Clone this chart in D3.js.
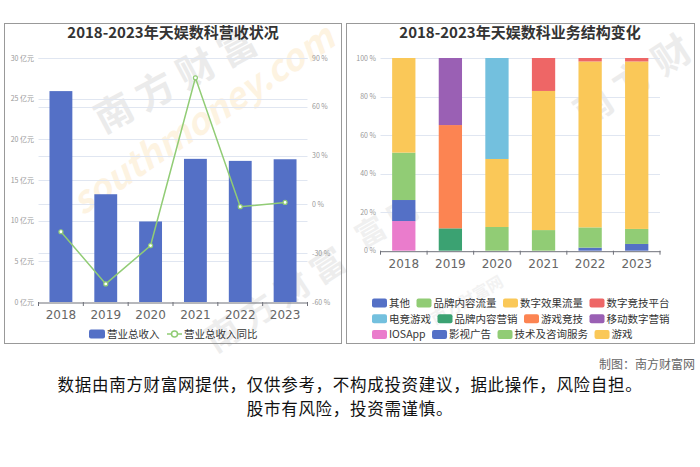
<!DOCTYPE html>
<html lang="zh">
<head>
<meta charset="utf-8">
<title>天娱数科</title>
<script src="https://cdnjs.cloudflare.com/ajax/libs/d3/7.8.5/d3.min.js"></script>
<style>
  body { margin: 0; background: #fff; }
  svg { display: block; font-family: "Noto Sans CJK SC", "Noto Sans", sans-serif; }
</style>
</head>
<body>
<script>
// ---- data ----
var years = ["2018", "2019", "2020", "2021", "2022", "2023"];
var revenue = [25.93, 13.25, 9.9, 17.6, 17.35, 17.55];      // 亿元
var growth = [-16.8, -48.9, -25.3, 77.8, -1.4, 1.2];       // %
var revTicks = [0, 5, 10, 15, 20, 25, 30];
var pctTicks = [-60, -30, 0, 30, 60, 90];

var segNames = ["其他", "品牌内容流量", "数字效果流量", "数字竞技平台", "电竞游戏", "品牌内容营销",
                "游戏竞技", "移动数字营销", "IOSApp", "影视广告", "技术及咨询服务", "游戏"];
var segColors = ["#5470c6", "#91cc75", "#fac858", "#ee6666", "#73c0de", "#3ba272",
                 "#fc8452", "#9a60b4", "#ea7ccc", "#5470c6", "#91cc75", "#fac858"];
// share per year (%), one row per segment, same order as segNames
var segValues = [
  [0, 0, 0, 0, 1.6, 3.5],
  [0, 0, 12.3, 10.7, 10.5, 7.8],
  [0, 0, 35.3, 72.2, 86.1, 86.9],
  [0, 0, 0, 17.1, 1.8, 1.8],
  [0, 0, 52.4, 0, 0, 0],
  [0, 11.6, 0, 0, 0, 0],
  [0, 53.6, 0, 0, 0, 0],
  [0, 34.8, 0, 0, 0, 0],
  [15.4, 0, 0, 0, 0, 0],
  [10.9, 0, 0, 0, 0, 0],
  [24.6, 0, 0, 0, 0, 0],
  [49.1, 0, 0, 0, 0, 0]
];
var shareTicks = [0, 20, 40, 60, 80, 100];

var w = 700, h = 467;
var svg = d3.select("body").append("svg").attr("width", w).attr("height", h);

// panel frames
svg.append("rect").attr("x", 4.5).attr("y", 23.5).attr("width", 337).attr("height", 320)
   .attr("fill", "#fff").attr("stroke", "#999");
svg.append("rect").attr("x", 346.5).attr("y", 23.5).attr("width", 348).attr("height", 320)
   .attr("fill", "#fff").attr("stroke", "#999");

// watermarks (faint)
function mark(x, y, rot, txt, size, color, op, italic) {
  svg.append("text").attr("transform", "translate(" + x + "," + y + ") rotate(" + rot + ")")
     .attr("text-anchor", "middle").attr("font-size", size).attr("font-weight", "bold")
     .attr("font-style", italic ? "italic" : "normal")
     .attr("fill", color).attr("opacity", op).text(txt);
}
mark(182, 92, -28, "南 方 财 富", 38, "#888", 0.16);
mark(210, 130, -34, "southmoney.com", 36, "#f5a623", 0.13, true);
mark(282, 310, -33, "南 方 财 富", 34, "#888", 0.14);
mark(640, 92, -33, "南 方 财", 38, "#888", 0.15);
mark(392, 232, -30, "富 网", 30, "#888", 0.12);
mark(470, 305, -30, "南方财富网", 16, "#888", 0.10);

// ---------- left chart ----------
var L = { left: 38.5, right: 307.5, top: 58, bottom: 302 };
var xL = d3.scaleBand().domain(years).range([L.left, L.right]);
var yRev = d3.scaleLinear().domain([0, 30]).range([L.bottom, L.top]);
var yPct = d3.scaleLinear().domain([-60, 90]).range([L.bottom, L.top]);

var gL = svg.append("g");
gL.append("text").attr("x", 173).attr("y", 38).attr("text-anchor", "middle")
  .attr("font-size", 15).attr("font-weight", "bold").attr("fill", "#333")
  .text("2018-2023年天娱数科营收状况");

gL.selectAll(".gr").data(revTicks.slice(1)).enter().append("line")
  .attr("x1", L.left).attr("x2", L.right)
  .attr("y1", function(d) { return Math.round(yRev(d)) + 0.5; })
  .attr("y2", function(d) { return Math.round(yRev(d)) + 0.5; })
  .attr("stroke", "#e0e6f1");
gL.selectAll(".gp").data(pctTicks.slice(1)).enter().append("line")
  .attr("x1", L.left).attr("x2", L.right)
  .attr("y1", function(d) { return Math.round(yPct(d)) + 0.5; })
  .attr("y2", function(d) { return Math.round(yPct(d)) + 0.5; })
  .attr("stroke", "#e0e6f1");

gL.selectAll(".ylab").data(revTicks).enter().append("text")
  .attr("x", 34).attr("y", function(d) { return yRev(d) + 2.5; })
  .attr("text-anchor", "end").attr("font-size", 7).attr("fill", "#999")
  .text(function(d) { return d + " 亿元"; });
gL.selectAll(".plab").data(pctTicks).enter().append("text")
  .attr("x", 312).attr("y", function(d) { return yPct(d) + 2.5; })
  .attr("font-size", 7).attr("fill", "#999")
  .text(function(d) { return d + " %"; });

var bwL = xL.bandwidth() * 0.51;
gL.selectAll(".bar").data(revenue).enter().append("rect")
  .attr("x", function(d, i) { return xL(years[i]) + (xL.bandwidth() - bwL) / 2; })
  .attr("y", function(d) { return yRev(d); })
  .attr("width", bwL)
  .attr("height", function(d) { return yRev(0) - yRev(d); })
  .attr("fill", "#5470c6");

var axL = gL.append("g").attr("transform", "translate(0," + (L.bottom + 0.5) + ")")
  .call(d3.axisBottom(xL).tickSize(0).tickPadding(8));
axL.select(".domain").attr("stroke", "#6e7079");
axL.selectAll("text").attr("font-size", 12).attr("fill", "#666")
   .attr("font-family", "DejaVu Sans, sans-serif");
gL.selectAll(".tk").data(d3.range(years.length + 1)).enter().append("line")
  .attr("x1", function(i) { return L.left + i * xL.step(); })
  .attr("x2", function(i) { return L.left + i * xL.step(); })
  .attr("y1", L.bottom).attr("y2", L.bottom + 4).attr("stroke", "#6e7079");

var line = d3.line()
  .x(function(d, i) { return xL(years[i]) + xL.bandwidth() / 2; })
  .y(function(d) { return yPct(d); });
gL.append("path").datum(growth).attr("d", line)
  .attr("fill", "none").attr("stroke", "#91cc75").attr("stroke-width", 1.5);
gL.selectAll(".pt").data(growth).enter().append("circle")
  .attr("cx", function(d, i) { return xL(years[i]) + xL.bandwidth() / 2; })
  .attr("cy", function(d) { return yPct(d); })
  .attr("r", 2).attr("fill", "#fff").attr("stroke", "#91cc75").attr("stroke-width", 1.2);

// left legend
var lg = gL.append("g").attr("transform", "translate(0,334)");
lg.append("rect").attr("x", 89).attr("y", -4.5).attr("width", 16).attr("height", 9).attr("rx", 2)
  .attr("fill", "#5470c6");
lg.append("text").attr("x", 107).attr("y", 4).attr("font-size", 10.5).attr("fill", "#333").text("营业总收入");
lg.append("line").attr("x1", 167).attr("x2", 182).attr("y1", 0).attr("y2", 0)
  .attr("stroke", "#91cc75").attr("stroke-width", 1.5);
lg.append("circle").attr("cx", 174.5).attr("cy", 0).attr("r", 3)
  .attr("fill", "#fff").attr("stroke", "#91cc75").attr("stroke-width", 1.5);
lg.append("text").attr("x", 184).attr("y", 4).attr("font-size", 10.5).attr("fill", "#333").text("营业总收入同比");

// ---------- right chart ----------
var R = { left: 380.5, right: 660, top: 58, bottom: 250.7 };
var xR = d3.scaleBand().domain(years).range([R.left, R.right]);
var yS = d3.scaleLinear().domain([0, 100]).range([R.bottom, R.top]);

var gR = svg.append("g");
gR.append("text").attr("x", 520).attr("y", 38).attr("text-anchor", "middle")
  .attr("font-size", 15).attr("font-weight", "bold").attr("fill", "#333")
  .text("2018-2023年天娱数科业务结构变化");

gR.selectAll(".gs").data(shareTicks.slice(1)).enter().append("line")
  .attr("x1", R.left).attr("x2", R.right)
  .attr("y1", function(d) { return Math.round(yS(d)) + 0.5; })
  .attr("y2", function(d) { return Math.round(yS(d)) + 0.5; })
  .attr("stroke", "#e0e6f1");
gR.selectAll(".slab").data(shareTicks).enter().append("text")
  .attr("x", 376).attr("y", function(d) { return yS(d) + 2.5; })
  .attr("text-anchor", "end").attr("font-size", 7).attr("fill", "#999")
  .text(function(d) { return d + " %"; });

var table = years.map(function(y, j) {
  var row = { year: y };
  segNames.forEach(function(n, k) { row[n] = segValues[k][j]; });
  return row;
});
var stacked = d3.stack().keys(segNames)(table);
var bwR = xR.bandwidth() * 0.5;
gR.selectAll(".ser").data(stacked).enter().append("g")
  .attr("fill", function(d, k) { return segColors[k]; })
  .selectAll("rect").data(function(d) { return d; }).enter().append("rect")
  .attr("x", function(d) { return xR(d.data.year) + (xR.bandwidth() - bwR) / 2; })
  .attr("y", function(d) { return yS(d[1]); })
  .attr("width", bwR)
  .attr("height", function(d) { return yS(d[0]) - yS(d[1]); });

var axR = gR.append("g").attr("transform", "translate(0," + (R.bottom + 0.5) + ")")
  .call(d3.axisBottom(xR).tickSize(0).tickPadding(8));
axR.select(".domain").attr("stroke", "#6e7079");
axR.selectAll("text").attr("font-size", 12).attr("fill", "#666")
   .attr("font-family", "DejaVu Sans, sans-serif");
gR.selectAll(".tk").data(d3.range(years.length + 1)).enter().append("line")
  .attr("x1", function(i) { return R.left + i * xR.step(); })
  .attr("x2", function(i) { return R.left + i * xR.step(); })
  .attr("y1", R.bottom).attr("y2", R.bottom + 4).attr("stroke", "#6e7079");

// right legend, wrapping rows
var lgR = gR.append("g");
var lx = 372, ly = 303, maxX = 690;
segNames.forEach(function(n, k) {
  var item = lgR.append("g");
  item.append("rect").attr("x", 0).attr("y", -4.5).attr("width", 15).attr("height", 9).attr("rx", 2)
    .attr("fill", segColors[k]);
  var t = item.append("text").attr("x", 17).attr("y", 4).attr("font-size", 10.5).attr("fill", "#333").text(n);
  var iw = 17 + t.node().getComputedTextLength();
  if (lx + iw > maxX) { lx = 372; ly += 15.7; }
  item.attr("transform", "translate(" + lx + "," + ly + ")");
  lx += iw + 6.5;
});

// ---------- footer ----------
svg.append("text").attr("x", 695).attr("y", 369).attr("text-anchor", "end")
  .attr("font-size", 12).attr("fill", "#666").text("制图：南方财富网");
svg.append("text").attr("x", 350).attr("y", 391).attr("text-anchor", "middle")
  .attr("font-size", 16.5).attr("letter-spacing", 0.7).attr("fill", "#111")
  .text("数据由南方财富网提供，仅供参考，不构成投资建议，据此操作，风险自担。");
svg.append("text").attr("x", 350).attr("y", 415).attr("text-anchor", "middle")
  .attr("font-size", 16.5).attr("letter-spacing", 0.7).attr("fill", "#111")
  .text("股市有风险，投资需谨慎。");
</script>
</body>
</html>
